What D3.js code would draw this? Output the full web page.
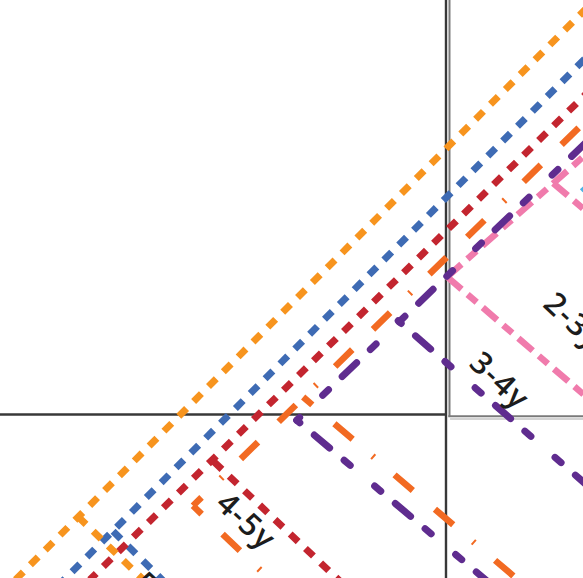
<!DOCTYPE html>
<html>
<head>
<meta charset="utf-8">
<script src="https://cdn.jsdelivr.net/npm/d3@7"></script>
<style>
  body { margin: 0; background: #fff; }
  svg { display: block; }
</style>
</head>
<body>
<div id="chart"></div>
<script>
// cohort lines in chart units (0-100 on both axes, y up)
// each series: one rising line, plus falling branches that start at a vertex
const amberUp = [[-1.7, -4.7], [102.9, 100.9]];
const amberBranch = [[[13.4, 10.6], [25.7, -1.4]]];
const blueUp = [[10.3, -1.0], [101.2, 90.7]];
const blueBranch = [[[19.4, 8.1], [29.2, -1.7]]];
const redUp = [[15.4, -0.3], [101.2, 84.4]];
const redBranch = [[[36.7, 20.1], [59.2, -1.4]]];
const orangeUp = [[33.1, 12.5], [101.2, 79.8]];
const orangeBranch = [[[33.1, 12.5], [48.0, -1.9]], [[52.0, 31.3], [90.1, -1.4]]];
const purpleUp = [[50.9, 27.3], [101.2, 76.0]];
const purpleBranch = [[[50.9, 27.3], [84.1, -1.0]], [[68.3, 44.5], [101.2, 15.6]]];
const pinkUp = [[76.7, 52.1], [101.2, 73.9]];
const pinkBranch = [[[76.7, 52.1], [101.2, 30.8]], [[94.9, 68.3], [101.2, 62.9]]];
const skyUp = [[99.7, 67.0], [102.9, 69.9]];

const ageLabels = ["2-3y", "3-4y", "4-5y", "5-6y"];
const labelX = [98.6, 85.9, 42.4, 28.3];
const labelY = [44.6, 34.3, 10.0, -3.8];

// panel frames
const frameDark = [[[76.5, -2], [76.5, 102]], [[-2, 28.3], [76.6, 28.3]]];
const frameGrey = [[[77.1, 27.9], [77.1, 102]], [[76.9, 28.0], [102, 28.0]]];
const frameFaint = [[[77.2, 27.5], [102, 27.5]]];

const width = 583, height = 578;

const x = d3.scaleLinear().domain([0, 100]).range([0, width]);
const y = d3.scaleLinear().domain([0, 100]).range([height, 0]);
const line = d3.line().x(d => x(d[0])).y(d => y(d[1]));

const purpleDash = "20,19,8,32,8,19";
const series = [
  {up: pinkUp, branches: pinkBranch, color: "#f07bac", w: 6.5, cap: "butt",
   dash: "19,8,12,8", upOff: 0, bDash: "19,8,12,8", bOff: 0},
  {up: purpleUp, branches: purpleBranch, color: "#5f2c8f", w: 7, cap: "round",
   dash: purpleDash, upOff: 43, bDash: purpleDash, bOff: 83},
  {up: orangeUp, branches: orangeBranch, color: "#f26a22", w: 6.5, cap: "butt",
   dash: "24,27,2,26,24,29", upOff: 12, bDash: "24,29,24,26,2,27", bOff: 12},
  {up: blueUp, branches: blueBranch, color: "#3e6bb4", w: 7, cap: "butt",
   dash: "11,10", upOff: 4, bDash: "11,10", bOff: 0},
  {up: redUp, branches: redBranch, color: "#c3252f", w: 7, cap: "butt",
   dash: "11,10", upOff: 2, bDash: "11,10", bOff: 0},
  {up: amberUp, branches: amberBranch, color: "#f7941e", w: 7, cap: "butt",
   dash: "11,10", upOff: 6, bDash: "11,10", bOff: 0},
  {up: skyUp, branches: [], color: "#4cb3e6", w: 4, cap: "butt",
   dash: null, upOff: 0, bDash: null, bOff: 0}
];

const svg = d3.select("#chart").append("svg")
    .attr("width", width)
    .attr("height", height);

svg.append("rect")
    .attr("width", width)
    .attr("height", height)
    .attr("fill", "#fff");

svg.append("clipPath").attr("id", "clip")
  .append("rect")
    .attr("width", width)
    .attr("height", height);

const frames = svg.append("g");
frames.selectAll(".dark").data(frameDark).enter().append("path")
    .attr("d", line).attr("stroke", "#383838").attr("stroke-width", 2.4).attr("fill", "none");
frames.selectAll(".grey").data(frameGrey).enter().append("path")
    .attr("d", line).attr("stroke", "#7a7a7a").attr("stroke-width", 2).attr("fill", "none");
frames.selectAll(".faint").data(frameFaint).enter().append("path")
    .attr("d", line).attr("stroke", "#c4c4c4").attr("stroke-width", 1.5).attr("fill", "none");

const plot = svg.append("g").attr("clip-path", "url(#clip)");

series.forEach(s => {
    const g = plot.append("g")
        .attr("fill", "none")
        .attr("stroke", s.color)
        .attr("stroke-width", s.w)
        .attr("stroke-linecap", s.cap);

    g.append("path")
        .attr("d", line(s.up))
        .attr("stroke-dasharray", s.dash)
        .attr("stroke-dashoffset", s.upOff);

    g.selectAll(".branch")
        .data(s.branches)
        .enter()
        .append("path")
        .attr("d", line)
        .attr("stroke-dasharray", s.bDash)
        .attr("stroke-dashoffset", s.bOff);
});

plot.selectAll(".age")
    .data(ageLabels)
    .enter()
    .append("text")
    .attr("transform", (d, i) => "translate(" + x(labelX[i]) + "," + y(labelY[i]) + ") rotate(43)")
    .attr("text-anchor", "middle")
    .attr("dominant-baseline", "central")
    .style("font-family", "'Open Sans', sans-serif")
    .style("font-weight", 600)
    .style("font-size", "31px")
    .style("letter-spacing", "1.5px")
    .style("fill", "#1c1c1c")
    .text(d => d);
</script>
</body>
</html>
